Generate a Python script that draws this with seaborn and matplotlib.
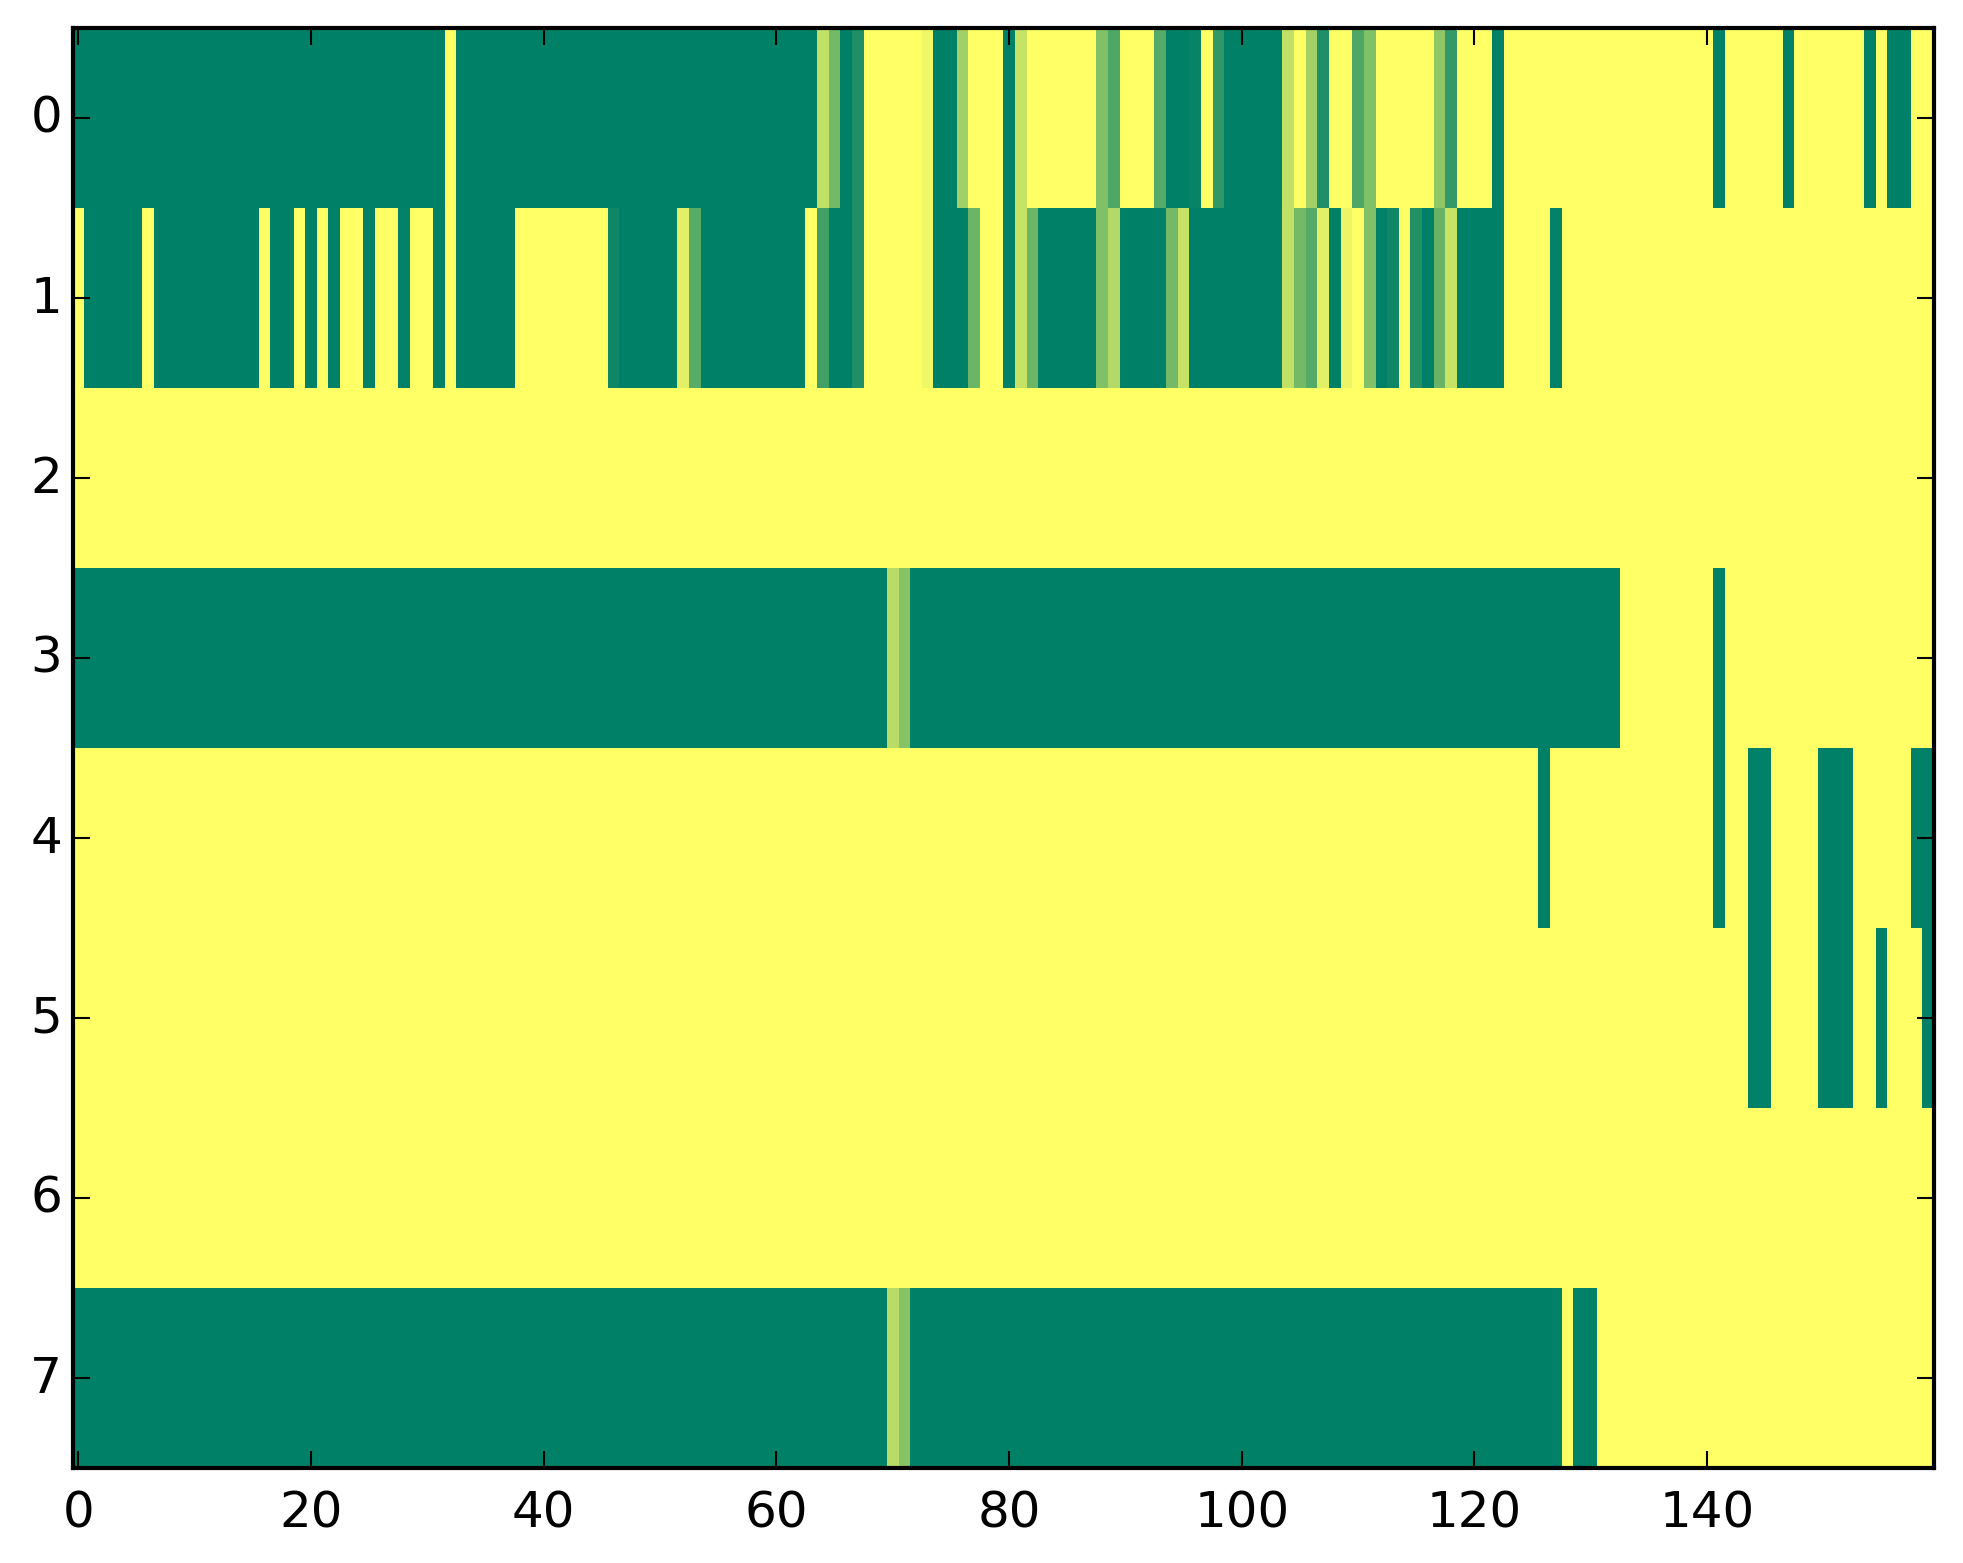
import numpy as np
import pandas as pd
import matplotlib
matplotlib.use("Agg")
import matplotlib.pyplot as plt
import seaborn as sns

# ---- data (values 0..1, mapped through the 'summer' colormap) ----
row0 = [0,0,0,0,0,0,0,0,0,0,0,0,0,0,0,0,0,0,0,0,
        0,0,0,0,0,0,0,0,0,0,0,0,1,0,0,0,0,0,0,0,
        0,0,0,0,0,0,0,0,0,0,0,0,0,0,0,0,0,0,0,0,
        0,0,0,0,.75,.45,0,.12,1,1,1,1,1,.94,0,0,.63,1,1,1,
        0,.78,1,1,1,1,1,1,.5,.31,1,1,1,.33,0,0,.03,1,.19,0,
        0,0,0,0,.75,1,.64,.12,1,1,.31,.5,1,1,1,1,1,.56,.2,1,
        1,1,0,1,1,1,1,1,1,1,1,1,1,1,1,1,1,1,1,1,
        1,0,1,1,1,1,1,0,1,1,1,1,1,1,0,1,0,0,1,1]
row1 = [1,0,0,0,0,0,1,0,0,0,0,0,0,0,0,0,1,0,0,1,
        0,1,0,1,1,0,1,1,0,1,1,0,1,0,0,0,0,0,1,1,
        1,1,1,1,1,1,.06,0,0,0,0,0,.88,.35,0,0,0,0,0,0,
        0,0,0,1,.25,0,0,.12,1,1,1,1,1,.94,0,0,0,.42,1,1,
        0,.78,.42,0,0,0,0,0,.5,.7,0,0,0,0,.45,.77,0,0,0,0,
        0,0,0,0,.75,.45,.33,.88,0,.92,1,.5,0,.06,1,.14,0,.41,.78,0,
        0,0,0,1,1,1,1,0,1,1,1,1,1,1,1,1,1,1,1,1,
        1,1,1,1,1,1,1,1,1,1,1,1,1,1,1,1,1,1,1,1]
row2 = [1,1,1,1,1,1,1,1,1,1,1,1,1,1,1,1,1,1,1,1,
        1,1,1,1,1,1,1,1,1,1,1,1,1,1,1,1,1,1,1,1,
        1,1,1,1,1,1,1,1,1,1,1,1,1,1,1,1,1,1,1,1,
        1,1,1,1,1,1,1,1,1,1,1,1,1,1,1,1,1,1,1,1,
        1,1,1,1,1,1,1,1,1,1,1,1,1,1,1,1,1,1,1,1,
        1,1,1,1,1,1,1,1,1,1,1,1,1,1,1,1,1,1,1,1,
        1,1,1,1,1,1,1,1,1,1,1,1,1,1,1,1,1,1,1,1,
        1,1,1,1,1,1,1,1,1,1,1,1,1,1,1,1,1,1,1,1]
row3 = [0,0,0,0,0,0,0,0,0,0,0,0,0,0,0,0,0,0,0,0,
        0,0,0,0,0,0,0,0,0,0,0,0,0,0,0,0,0,0,0,0,
        0,0,0,0,0,0,0,0,0,0,0,0,0,0,0,0,0,0,0,0,
        0,0,0,0,0,0,0,0,0,0,.72,.53,0,0,0,0,0,0,0,0,
        0,0,0,0,0,0,0,0,0,0,0,0,0,0,0,0,0,0,0,0,
        0,0,0,0,0,0,0,0,0,0,0,0,0,0,0,0,0,0,0,0,
        0,0,0,0,0,0,0,0,0,0,0,0,0,1,1,1,1,1,1,1,
        1,0,1,1,1,1,1,1,1,1,1,1,1,1,1,1,1,1,1,1]
row4 = [1,1,1,1,1,1,1,1,1,1,1,1,1,1,1,1,1,1,1,1,
        1,1,1,1,1,1,1,1,1,1,1,1,1,1,1,1,1,1,1,1,
        1,1,1,1,1,1,1,1,1,1,1,1,1,1,1,1,1,1,1,1,
        1,1,1,1,1,1,1,1,1,1,1,1,1,1,1,1,1,1,1,1,
        1,1,1,1,1,1,1,1,1,1,1,1,1,1,1,1,1,1,1,1,
        1,1,1,1,1,1,1,1,1,1,1,1,1,1,1,1,1,1,1,1,
        1,1,1,1,1,1,0,1,1,1,1,1,1,1,1,1,1,1,1,1,
        1,0,1,1,0,0,1,1,1,1,0,0,0,1,1,1,1,1,0,0]
row5 = [1,1,1,1,1,1,1,1,1,1,1,1,1,1,1,1,1,1,1,1,
        1,1,1,1,1,1,1,1,1,1,1,1,1,1,1,1,1,1,1,1,
        1,1,1,1,1,1,1,1,1,1,1,1,1,1,1,1,1,1,1,1,
        1,1,1,1,1,1,1,1,1,1,1,1,1,1,1,1,1,1,1,1,
        1,1,1,1,1,1,1,1,1,1,1,1,1,1,1,1,1,1,1,1,
        1,1,1,1,1,1,1,1,1,1,1,1,1,1,1,1,1,1,1,1,
        1,1,1,1,1,1,1,1,1,1,1,1,1,1,1,1,1,1,1,1,
        1,1,1,1,0,0,1,1,1,1,0,0,0,1,1,0,1,1,1,0]
row6 = [1,1,1,1,1,1,1,1,1,1,1,1,1,1,1,1,1,1,1,1,
        1,1,1,1,1,1,1,1,1,1,1,1,1,1,1,1,1,1,1,1,
        1,1,1,1,1,1,1,1,1,1,1,1,1,1,1,1,1,1,1,1,
        1,1,1,1,1,1,1,1,1,1,1,1,1,1,1,1,1,1,1,1,
        1,1,1,1,1,1,1,1,1,1,1,1,1,1,1,1,1,1,1,1,
        1,1,1,1,1,1,1,1,1,1,1,1,1,1,1,1,1,1,1,1,
        1,1,1,1,1,1,1,1,1,1,1,1,1,1,1,1,1,1,1,1,
        1,1,1,1,1,1,1,1,1,1,1,1,1,1,1,1,1,1,1,1]
row7 = [0,0,0,0,0,0,0,0,0,0,0,0,0,0,0,0,0,0,0,0,
        0,0,0,0,0,0,0,0,0,0,0,0,0,0,0,0,0,0,0,0,
        0,0,0,0,0,0,0,0,0,0,0,0,0,0,0,0,0,0,0,0,
        0,0,0,0,0,0,0,0,0,0,.72,.53,0,0,0,0,0,0,0,0,
        0,0,0,0,0,0,0,0,0,0,0,0,0,0,0,0,0,0,0,0,
        0,0,0,0,0,0,0,0,0,0,0,0,0,0,0,0,0,0,0,0,
        0,0,0,0,0,0,0,0,1,0,0,1,1,1,1,1,1,1,1,1,
        1,1,1,1,1,1,1,1,1,1,1,1,1,1,1,1,1,1,1,1]

row_labels = [0, 1, 2, 3, 4, 5, 6, 7]
xtick_values = [0, 20, 40, 60, 80, 100, 120, 140]

rows = [row0, row1, row2, row3, row4, row5, row6, row7]
data = pd.DataFrame(np.array(rows, dtype=float), index=row_labels)

# ---- style (classic matplotlib look) ----
plt.style.use("classic")
plt.rcParams["figure.facecolor"] = "white"
plt.rcParams["savefig.facecolor"] = "white"
plt.rcParams["font.family"] = ["DejaVu Sans"]
plt.rcParams["font.size"] = 12

W, H, DPI = 1963, 1564, 300
fig = plt.figure(figsize=(W / DPI, H / DPI), dpi=DPI)
left, right, top, bottom = 72.5, 1934.0, 28.5, 1469.0
ax = fig.add_axes([left / W, 1 - bottom / H, (right - left) / W, (bottom - top) / H])

sns.heatmap(data, cmap="summer", vmin=0, vmax=1, cbar=False, ax=ax,
            xticklabels=False, yticklabels=False, linewidths=0)

ax.set_xticks([v + 0.5 for v in xtick_values])
ax.set_xticklabels([str(v) for v in xtick_values], rotation=0)
ax.set_yticks([r + 0.5 for r in range(len(row_labels))])
ax.set_yticklabels([str(r) for r in row_labels], rotation=0, va="center")
ax.set_xlabel("")
ax.set_ylabel("")

for s in ax.spines.values():
    s.set_visible(True)
    s.set_color("black")
    s.set_linewidth(1.0)
ax.tick_params(direction="in", top=True, right=True, bottom=True, left=True,
               length=4, width=0.5, labelsize=12,
               labeltop=False, labelright=False)
ax.tick_params(axis="x", pad=5)
ax.tick_params(axis="y", pad=2.5)

fig.savefig("out.png", dpi=DPI)
